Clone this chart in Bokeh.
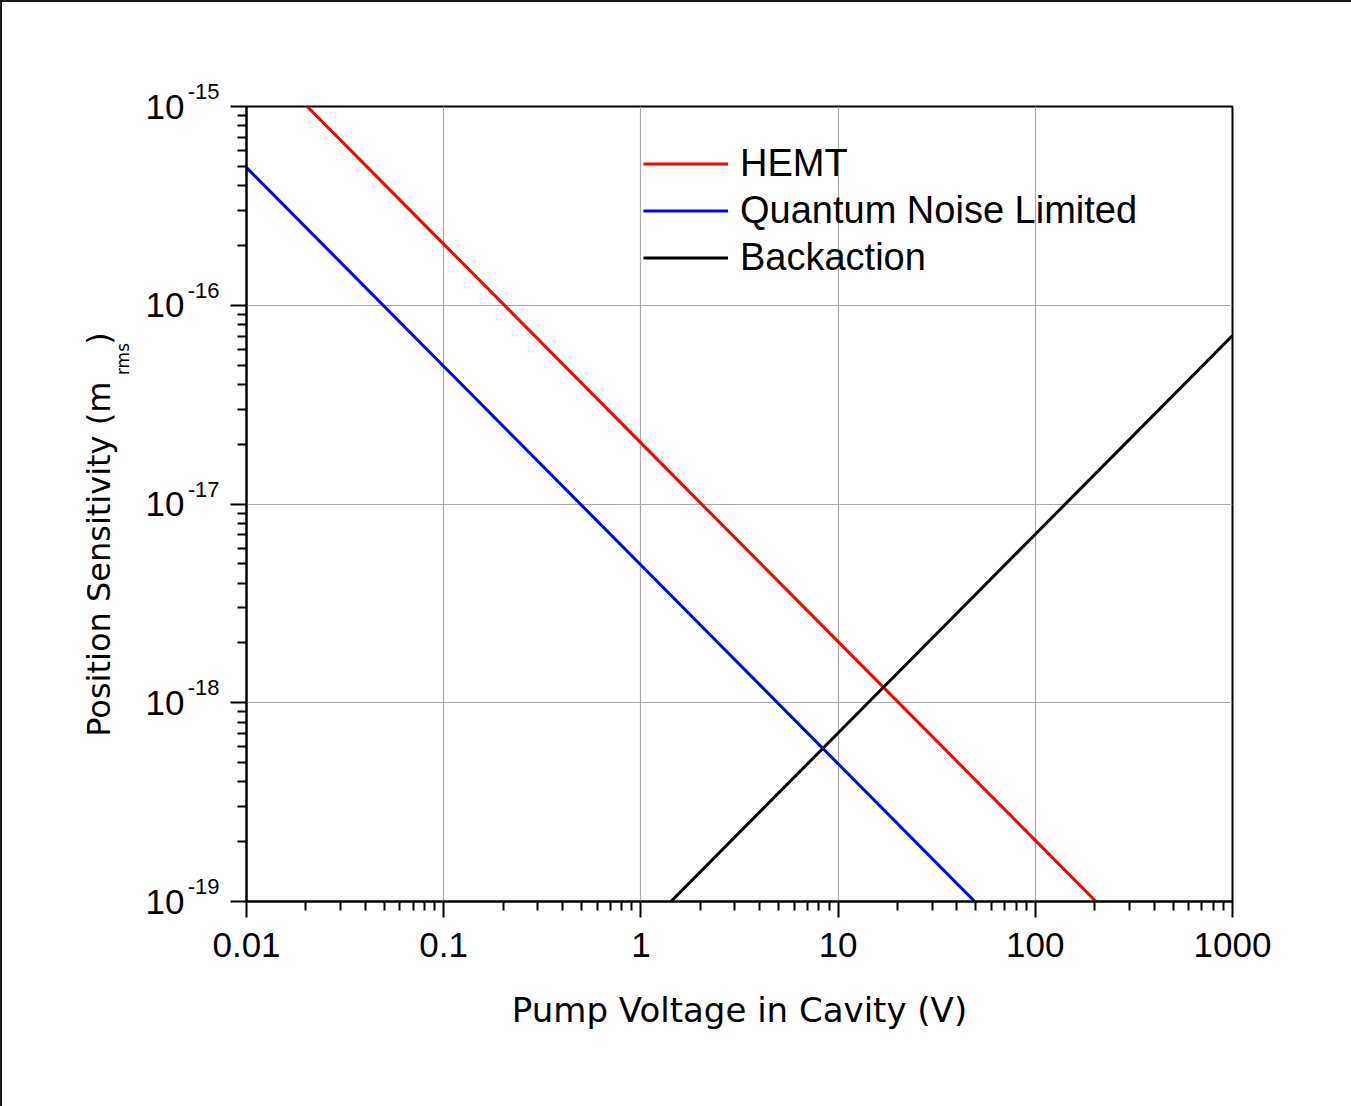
import math
from bokeh.plotting import figure
from bokeh.models import (Range1d, FixedTicker, CustomJSTickFormatter, LogAxis,
                          Legend, LegendItem)
from bokeh.embed import file_html
from bokeh.resources import INLINE

# ---- data ----
x_major = [0.01, 0.1, 1, 10, 100, 1000]
x_tick_labels = ["0.01", "0.1", "1", "10", "100", "1000"]
y_major = [1e-19, 1e-18, 1e-17, 1e-16, 1e-15]
y_exponents = ["-19", "-18", "-17", "-16", "-15"]

hemt_v = [0.0203, 0.1, 1, 10, 100, 203]
hemt_s = [1.0e-15, 2.03e-16, 2.03e-17, 2.03e-18, 2.03e-19, 1.0e-19]

qnl_v = [0.01, 0.1, 1, 10, 49.3]
qnl_s = [4.93e-16, 4.93e-17, 4.93e-18, 4.93e-19, 1.0e-19]

back_v = [1.42, 10, 100, 1000]
back_s = [1.0e-19, 7.04e-19, 7.04e-18, 7.04e-17]

series_names = ["HEMT", "Quantum Noise Limited", "Backaction"]
series_colors = ["#ff0000", "#0000ff", "#000000"]

x_title = "Pump Voltage in Cavity (V)"
# gap after "(m" leaves room for the subscript; trailing spaces shift the centred title down
y_title_main = "Position Sensitivity (m" + "\u00a0" * 3 + "\u2009)" + "\u00a0" * 6
y_title_sub = "rms"

# ---- figure ----
p = figure(width=1349, height=1104, x_axis_type="log", y_axis_type="log",
           x_range=Range1d(x_major[0], x_major[-1]),
           y_range=Range1d(y_major[0], y_major[-1]),
           output_backend="svg", toolbar_location=None,
           min_border_left=244, min_border_right=119,
           min_border_top=104, min_border_bottom=205)
p.background_fill_color = "white"
p.border_fill_color = "white"
p.outline_line_color = "black"
p.outline_line_width = 2


def minors(majors):
    out = []
    for m in majors[:-1]:
        for k in range(2, 10):
            out.append(m * k)
    return out


def lookup_formatter(vals, labs):
    return CustomJSTickFormatter(
        args=dict(vals=vals, labs=labs),
        code="""
        let best = 0, bd = 1e9;
        for (let i = 0; i < vals.length; i++) {
            const d = Math.abs(Math.log10(vals[i]) - Math.log10(tick));
            if (d < bd) { bd = d; best = i; }
        }
        return labs[best];
        """)


p.xaxis.ticker = FixedTicker(ticks=x_major, minor_ticks=minors(x_major))
p.yaxis.ticker = FixedTicker(ticks=y_major, minor_ticks=minors(y_major))
p.xaxis.formatter = lookup_formatter(x_major, x_tick_labels)
p.yaxis.formatter = lookup_formatter(y_major, [e + "\n" for e in y_exponents])

for ax in (p.xaxis[0], p.yaxis[0]):
    ax.axis_line_width = 2
    ax.axis_line_color = "black"
    ax.major_tick_line_width = 2
    ax.minor_tick_line_width = 2
    ax.major_tick_line_color = "black"
    ax.minor_tick_line_color = "black"
    ax.major_tick_in = 0
    ax.major_tick_out = 16
    ax.minor_tick_in = 0
    ax.minor_tick_out = 9

p.xaxis.major_label_text_font = "Liberation Sans"
p.xaxis.major_label_text_font_size = "35px"
p.xaxis.major_label_text_color = "black"
p.xaxis.major_label_standoff = 15
p.xaxis.axis_label = x_title
p.xaxis.axis_label_text_font = "DejaVu Sans"
p.xaxis.axis_label_text_font_size = "34px"
p.xaxis.axis_label_text_font_style = "normal"
p.xaxis.axis_label_text_color = "black"
p.xaxis.axis_label_standoff = 30

# inner y axis: exponents
p.yaxis.major_label_text_font = "Liberation Sans"
p.yaxis.major_label_text_font_size = "22px"
p.yaxis.major_label_text_color = "black"
p.yaxis.major_label_standoff = 11


def hidden_axis(ticks, labels, **kw):
    return LogAxis(ticker=FixedTicker(ticks=ticks, minor_ticks=[]),
                   formatter=lookup_formatter(ticks, labels),
                   axis_line_color=None, major_tick_line_color=None,
                   minor_tick_line_color=None, major_tick_in=0, major_tick_out=0,
                   minor_tick_in=0, minor_tick_out=0,
                   major_label_text_color="black", **kw)


# outer y axis: mantissa "10"
p.add_layout(hidden_axis(y_major, ["10"] * len(y_major),
                         major_label_standoff=0,
                         major_label_text_font="Liberation Sans",
                         major_label_text_font_size="35px"), "left")

# subscript of the y title (as a rotated tick label) + main y title as its axis label
sub_pos = 10 ** (-15 - (342.5 - 106) / 198.75)
p.add_layout(hidden_axis([sub_pos], [y_title_sub],
                         major_label_standoff=20,
                         major_label_orientation=math.pi / 2,
                         major_label_text_font="DejaVu Sans",
                         major_label_text_font_size="17px",
                         axis_label=y_title_main,
                         axis_label_standoff=-18,
                         axis_label_text_font="DejaVu Sans",
                         axis_label_text_font_size="32px",
                         axis_label_text_font_style="normal",
                         axis_label_text_color="black"), "left")

p.xgrid.grid_line_color = "#aaaaaa"
p.ygrid.grid_line_color = "#aaaaaa"
p.xgrid.grid_line_width = 1.2
p.ygrid.grid_line_width = 1.2

# ---- series ----
r1 = p.line(hemt_v, hemt_s, line_color=series_colors[0], line_width=3)
r2 = p.line(qnl_v, qnl_s, line_color=series_colors[1], line_width=3)
r3 = p.line(back_v, back_s, line_color=series_colors[2], line_width=3)

legend = Legend(items=[LegendItem(label=series_names[0], renderers=[r1]),
                       LegendItem(label=series_names[1], renderers=[r2]),
                       LegendItem(label=series_names[2], renderers=[r3])],
                location=(397, 620),
                glyph_width=85, glyph_height=47, label_height=47,
                spacing=0, padding=0, margin=0, label_standoff=12,
                label_text_font="Liberation Sans", label_text_font_size="38px",
                label_text_color="black",
                border_line_color=None, background_fill_alpha=0)
p.add_layout(legend, "center")

html = file_html(p, INLINE)
html = html.replace(
    "</head>",
    "<style>html,body{margin:0;padding:0;}"
    "body{border-top:2px solid #1c1c1c;border-left:2px solid #1c1c1c;}</style></head>",
    1)
open("out.html", "w").write(html)
